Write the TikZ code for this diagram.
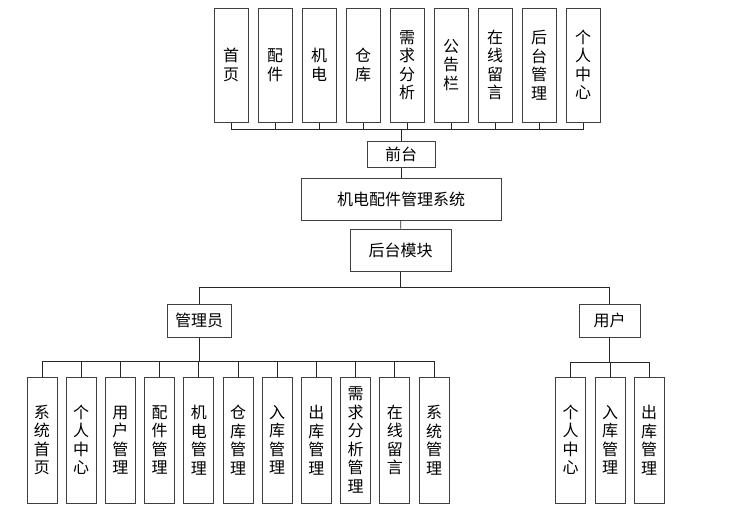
\documentclass[tikz,border=0pt]{standalone}
\usepackage{fontspec}
\setmainfont{Noto Sans CJK SC}
\usetikzlibrary{positioning,calc}
\tikzset{
  font=\fontsize{16}{18.5}\selectfont,
  box/.style={
    draw=black!75,
    line width=1pt,
    fill=white,
    align=center,
    inner sep=0pt
  },
  topcol/.style={box, minimum width=34pt, minimum height=114pt},
  subcol/.style={box, minimum width=30pt, minimum height=126pt},
  head/.style={box, minimum width=#1, minimum height=33pt},
  link/.style={draw=black!85, line width=0.8pt}
}

\begin{document}
\begin{tikzpicture}[x=1pt, y=-1pt]
\useasboundingbox (0,0) rectangle (729,515);

% --- front-end pages ---
\foreach \name/\label [count=\i] in {
    home/首\\页, parts/配\\件, elec/机\\电, store/仓\\库,
    need/需\\求\\分\\析, board/公\\告\\栏, msg/在\\线\\留\\言,
    back/后\\台\\管\\理, mine/个\\人\\中\\心}
  \node[topcol] (t\i) at ({231+44*(\i-1)}, 65) {\label};

\node[box, minimum width=68pt, minimum height=26pt] (front) at (401,154) {前台};
\node[box, minimum width=200pt, minimum height=42pt] (sys) at (401,199) {机电配件管理系统};
\node[box, minimum width=101pt, minimum height=42pt] (backend) at (400.5,250) {后台模块};

\node[head=64pt] (admin) at (199,320.5) {管理员};
\node[head=61pt] (user) at (609.5,320.5) {用户};

% --- admin functions ---
\foreach \label [count=\i] in {
    系\\统\\首\\页, 个\\人\\中\\心, 用\\户\\管\\理, 配\\件\\管\\理,
    机\\电\\管\\理, 仓\\库\\管\\理, 入\\库\\管\\理, 出\\库\\管\\理,
    需\\求\\分\\析\\管\\理, 在\\线\\留\\言, 系\\统\\管\\理}
  \node[subcol] (a\i) at ({42+39.2*(\i-1)}, 440) {\label};

% --- user functions ---
\node[subcol] (u1) at (570.5,440) {个\\人\\中\\心};
\node[subcol] (u2) at (610,440) {入\\库\\管\\理};
\node[subcol] (u3) at (649,440) {出\\库\\管\\理};

% connectors
\foreach \i in {1,...,9}
  \draw[link] (front.north) -- ++(0,-11) -| (t\i.south);
\draw[link] (front) -- (sys);
\draw[link] (sys) -- (backend);
\draw[link] (backend.south) -- ++(0,16) -| (admin.north);
\draw[link] (backend.south) -- ++(0,16) -| (user.north);
\foreach \i in {1,...,11}
  \draw[link] (admin.south) -- ++(0,24) -| (a\i.north);
\foreach \i in {1,...,3}
  \draw[link] (user.south) -- ++(0,25) -| (u\i.north);

\end{tikzpicture}
\end{document}
